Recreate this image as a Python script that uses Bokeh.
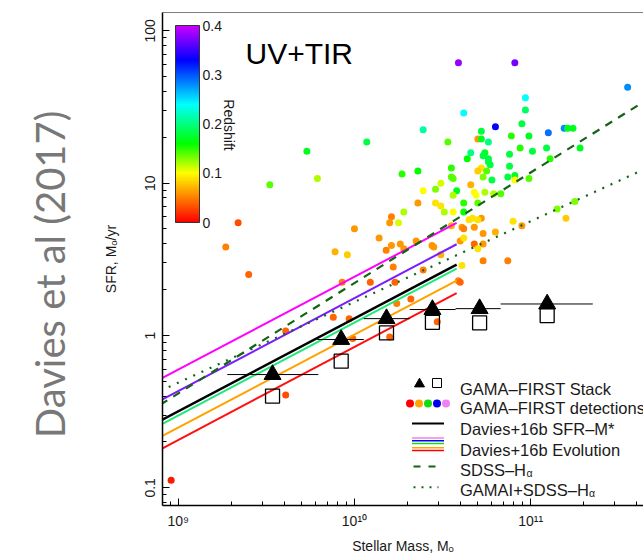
import math, colorsys
import numpy as np
from bokeh.plotting import figure
from bokeh.models import (ColumnDataSource, LinearColorMapper, ColorBar, Label, Span,
                          FixedTicker, CustomJSTickFormatter, Range1d, LogAxis)
from bokeh.embed import file_html
from bokeh.resources import INLINE

# ---------------- data ----------------
log_mass = [10.59, 10.91, 11.55, 10.97, 10.97, 10.62, 10.95, 10.80, 10.39, 11.10,
            11.19, 11.21, 11.24, 10.72, 10.70, 10.72, 10.53, 10.89, 10.99, 10.76,
            10.94, 11.01, 11.09, 11.28, 10.66, 10.74, 10.73, 10.88, 10.64, 10.76,
            10.76, 10.77, 11.11, 10.88, 10.72, 10.70, 10.55, 10.27, 10.36, 10.75,
            10.55, 10.56, 10.73, 10.78, 10.87, 10.91, 10.91, 10.99, 10.49, 10.58,
            10.46, 10.39, 10.66, 10.68, 10.69, 10.74, 10.56, 10.79, 10.83, 10.36,
            10.46, 10.49, 10.28, 10.62, 10.70, 10.51, 10.56, 10.62, 10.21, 10.20,
            10.25, 10.72, 10.65, 10.67, 10.70, 10.90, 11.20, 11.15, 11.25, 10.95,
            10.55, 10.61, 10.62, 10.68, 10.80, 10.73, 10.60, 10.62, 10.68, 10.73,
            10.70, 10.35, 10.44, 10.45, 10.49, 10.26, 10.28, 10.21, 10.18, 10.73,
            10.87, 10.61, 10.39, 10.22, 10.59, 10.60, 10.32, 10.24, 10.23, 9.34,
            9.27, 9.40, 9.52, 9.79, 9.73, 10.07, 10.00, 9.89, 9.96, 10.14,
            9.93, 10.09, 9.88, 9.97, 9.99, 9.61, 10.20, 10.47, 9.61, 8.96]
log_sfr = [1.79, 1.79, 1.63, 1.56, 1.48, 1.46, 1.39, 1.37, 1.35, 1.33,
           1.36, 1.36, 1.36, 1.34, 1.29, 1.29, 1.27, 1.31, 1.31, 1.27,
           1.23, 1.21, 1.23, 1.23, 1.20, 1.20, 1.18, 1.19, 1.16, 1.16,
           1.14, 1.12, 1.16, 1.11, 1.10, 1.08, 1.10, 1.06, 1.08, 1.08,
           1.04, 1.03, 1.04, 1.02, 1.04, 1.05, 1.02, 1.03, 1.00, 0.95,
           0.96, 0.95, 0.99, 0.94, 0.92, 0.94, 0.92, 0.93, 0.93, 0.87,
           0.87, 0.85, 0.81, 0.87, 0.87, 0.81, 0.81, 0.81, 0.78, 0.74,
           0.74, 0.77, 0.76, 0.77, 0.76, 0.75, 0.77, 0.83, 0.88, 0.72,
           0.72, 0.71, 0.70, 0.71, 0.68, 0.67, 0.62, 0.64, 0.60, 0.60,
           0.57, 0.62, 0.59, 0.58, 0.53, 0.60, 0.57, 0.59, 0.56, 0.49,
           0.49, 0.46, 0.43, 0.45, 0.36, 0.35, 0.24, 0.21, 0.35, 0.74,
           0.58, 0.40, 0.99, 1.03, 1.21, 1.27, 0.70, 0.55, 0.53, 0.64,
           0.35, 0.35, 0.12, 0.11, -0.02, 0.03, -0.01, 0.09, -0.39, -0.95]
redshift = [0.38, 0.37, 0.28, 0.24, 0.19, 0.24, 0.18, 0.33, 0.21, 0.29,
            0.28, 0.17, 0.17, 0.18, 0.06, 0.17, 0.14, 0.15, 0.17, 0.20,
            0.15, 0.18, 0.18, 0.17, 0.20, 0.17, 0.18, 0.18, 0.16, 0.18,
            0.18, 0.18, 0.15, 0.18, 0.09, 0.08, 0.15, 0.15, 0.16, 0.14,
            0.14, 0.14, 0.13, 0.18, 0.18, 0.17, 0.10, 0.14, 0.11, 0.17,
            0.13, 0.10, 0.07, 0.10, 0.10, 0.12, 0.12, 0.12, 0.14, 0.06,
            0.09, 0.09, 0.12, 0.15, 0.14, 0.12, 0.10, 0.16, 0.05, 0.06,
            0.11, 0.06, 0.09, 0.09, 0.09, 0.09, 0.08, 0.13, 0.13, 0.06,
            0.07, 0.06, 0.05, 0.06, 0.07, 0.06, 0.06, 0.09, 0.04, 0.06,
            0.09, 0.06, 0.06, 0.06, 0.07, 0.06, 0.06, 0.06, 0.05, 0.05,
            0.05, 0.09, 0.05, 0.05, 0.05, 0.04, 0.04, 0.05, 0.04, 0.03,
            0.05, 0.04, 0.14, 0.12, 0.17, 0.18, 0.06, 0.07, 0.08, 0.06,
            0.05, 0.04, 0.04, 0.04, 0.04, 0.04, 0.04, 0.04, 0.03, 0.01]

stack_mass = [3.43e9, 8.41e9, 1.52e10, 2.77e10, 5.13e10, 1.24e11]
stack_mass_lo = [1.90e9, 6.15e9, 1.13e10, 2.06e10, 3.75e10, 6.75e10]
stack_mass_hi = [6.24e9, 1.13e10, 2.06e10, 3.75e10, 6.75e10, 2.25e11]
stack_sfr_triangle = [0.554, 0.941, 1.29, 1.48, 1.50, 1.61]
stack_sfr_square = [0.40, 0.678, 1.04, 1.22, 1.21, 1.35]

relation_mass = [7.94e8, 3.80e10]
davies_sfr = [0.276, 2.92]
evolution_names = ["magenta", "purple", "green", "orange", "red"]
evolution_sfr = [[0.518, 5.48], [0.375, 3.97], [0.259, 2.75], [0.216, 2.29], [0.179, 1.90]]
halpha_mass = [7.94e8, 5.0e11]
sdss_sfr = [0.352, 37.7]
gama_sdss_sfr = [0.433, 13.2]

# ---------------- styling ----------------
EVO_COLORS = {"magenta": "#ff00ff", "purple": "#7a1cff", "green": "#1ee878",
              "orange": "#ffa200", "red": "#ff1010"}
DGREEN = "#146414"
FONT = "Liberation Sans"

XL0, XL1 = 8.911, 11.64
YL0, YL1 = -1.116, 2.12
FL, FT, FW, FH = 162, 12, 481, 493   # frame geometry in page pixels


def px2data(px, py):
    return (10 ** (XL0 + (px - FL) / FW * (XL1 - XL0)),
            10 ** (YL1 - (py - FT) / FH * (YL1 - YL0)))


def sx(px):
    return px - FL


def sy(py):
    return FT + FH - py


# colour palette (hue rainbow red -> purple)
zk = [0.0, 0.1, 0.16, 0.24, 0.33, 0.4]
hk = [0.0, 1 / 6, 1 / 3, 0.5, 2 / 3, 0.8]
palette = []
for t in np.linspace(0, 0.4, 256):
    r, g, b = colorsys.hsv_to_rgb(float(np.interp(t, zk, hk)), 1.0, 1.0)
    palette.append("#%02x%02x%02x" % (int(r * 255), int(g * 255), int(b * 255)))
mapper = LinearColorMapper(palette=palette, low=0.0, high=0.4)

p = figure(width=643, height=558, x_axis_type="log", y_axis_type="log",
           x_range=Range1d(10 ** XL0, 10 ** XL1), y_range=Range1d(10 ** YL0, 10 ** YL1),
           output_backend="svg", toolbar_location=None,
           min_border_left=FL, min_border_right=0, min_border_top=FT,
           min_border_bottom=558 - FT - FH)
p.grid.visible = False
p.outline_line_color = None
p.background_fill_color = "white"
p.border_fill_color = "white"

# axes
p.xaxis.ticker = FixedTicker(ticks=[1e9, 1e10, 1e11],
                             minor_ticks=[m * 10.0 ** e for e in (8, 9, 10, 11) for m in range(2, 10)])
p.yaxis.ticker = FixedTicker(ticks=[0.1, 1, 10, 100],
                             minor_ticks=[m * 10.0 ** e for e in (-2, -1, 0, 1, 2) for m in range(2, 10)])
p.xaxis.formatter = CustomJSTickFormatter(code="""
const sup = {'0':'\u2070','1':'\u00b9','2':'\u00b2','3':'\u00b3','4':'\u2074','5':'\u2075',
             '6':'\u2076','7':'\u2077','8':'\u2078','9':'\u2079','-':'\u207b'};
const e = String(Math.round(Math.log10(tick)));
return '10' + e.split('').map(c => sup[c]).join('');
""")
p.yaxis.formatter = CustomJSTickFormatter(code="return tick < 1 ? tick.toFixed(1) : tick.toFixed(0);")
p.yaxis.major_label_orientation = "vertical"
for ax in (p.xaxis[0], p.yaxis[0]):
    ax.axis_line_width = 1.5
    ax.axis_line_color = "black"
    ax.major_tick_in = 7
    ax.major_tick_out = 0
    ax.minor_tick_in = 4
    ax.minor_tick_out = 0
    ax.major_tick_line_color = "black"
    ax.minor_tick_line_color = "black"
    ax.major_label_text_font = FONT
    ax.major_label_text_font_size = "14px"
    ax.major_label_text_color = "#1a1a1a"
    ax.axis_label_text_font = FONT
    ax.axis_label_text_font_size = "14px"
    ax.axis_label_text_font_style = "normal"
    ax.axis_label_text_color = "#1a1a1a"
p.xaxis.axis_label = "Stellar Mass, M\u2092"
p.yaxis.axis_label = "SFR, M\u2092/yr"
p.xaxis.major_label_standoff = 7
p.xaxis.axis_label_standoff = 6
p.yaxis.major_label_standoff = 7
p.yaxis.axis_label_standoff = 24

# outer annotation axis carrying the big grey credit text
credit = LogAxis(axis_label="Davies et al (2017)\u00a0\u00a0\u00a0",
                 ticker=FixedTicker(ticks=[]), axis_line_color=None,
                 major_tick_line_color=None, minor_tick_line_color=None,
                 axis_label_text_font="Lato", axis_label_text_font_size="40px",
                 axis_label_text_font_style="normal", axis_label_text_color="#787878",
                 axis_label_standoff=26)
p.add_layout(credit, "left")

p.add_layout(Span(location=10 ** YL1, dimension="width", line_color="black", line_width=1))

# scatter detections
src = ColumnDataSource(dict(m=10 ** np.array(log_mass), s=10 ** np.array(log_sfr), z=redshift))
p.scatter("m", "s", source=src, size=7, fill_color={"field": "z", "transform": mapper},
          line_color=None)

# relations
for name, ys in zip(evolution_names, evolution_sfr):
    p.line(relation_mass, ys, line_color=EVO_COLORS[name], line_width=2)
p.line(relation_mass, davies_sfr, line_color="black", line_width=2.5)
p.line(halpha_mass, sdss_sfr, line_color=DGREEN, line_width=2.2, line_dash="8 7")
p.line(halpha_mass, gama_sdss_sfr, line_color=DGREEN, line_width=2.2, line_dash="2 7")

# stacks
p.segment(stack_mass_lo, stack_sfr_triangle, stack_mass_hi, stack_sfr_triangle,
          line_color="black", line_width=1)
p.scatter(stack_mass, stack_sfr_triangle, marker="triangle", size=17,
          fill_color="black", line_color="black")
p.scatter(stack_mass, stack_sfr_square, marker="square", size=14,
          fill_alpha=0, line_color="black", line_width=1.3)

# colour bar
cb = ColorBar(color_mapper=mapper, location=(13, 283), width=24, height=197,
              padding=0, margin=0,
              ticker=FixedTicker(ticks=[0, 0.1, 0.2, 0.3, 0.4]),
              formatter=CustomJSTickFormatter(code="return tick == 0 ? '0' : tick.toFixed(1);"),
              major_label_text_font=FONT, major_label_text_font_size="14px",
              major_label_text_color="#1a1a1a",
              major_tick_line_color=None, minor_tick_line_color=None,
              bar_line_color="#333333", bar_line_width=1,
              background_fill_alpha=0, border_line_color=None, label_standoff=3)
p.add_layout(cb)

p.add_layout(Label(x=sx(228.5), y=sy(124.5), x_units="screen", y_units="screen",
                   text="Redshift", angle=-math.pi / 2, text_align="center",
                   text_baseline="alphabetic", text_font=FONT,
                   text_font_size="14px", text_color="#1a1a1a"))
p.add_layout(Label(x=sx(245), y=sy(53), x_units="screen", y_units="screen",
                   text="UV+TIR", text_align="left", text_baseline="alphabetic",
                   text_font=FONT, text_font_size="30px", text_color="black"))

# legend (drawn by hand)
leg_text = ["GAMA\u2013FIRST Stack", "GAMA\u2013FIRST detections", "Davies+16b SFR\u2013M*",
            "Davies+16b Evolution", "SDSS\u2013H", "GAMAI+SDSS\u2013H"]
leg_base = [388.0, 407.7, 428.0, 449.2, 469.5, 489.5]
for t, b in zip(leg_text, leg_base):
    p.add_layout(Label(x=sx(459.5), y=sy(b), x_units="screen", y_units="screen", text=t,
                       text_align="left", text_baseline="alphabetic", text_font=FONT,
                       text_font_size="16.5px", text_color="#1a1a1a"))
for xa, b in ((526.0, 472.8), (588.5, 492.8)):
    p.add_layout(Label(x=sx(xa), y=sy(b), x_units="screen", y_units="screen", text="\u03b1",
                       text_align="left", text_baseline="alphabetic", text_font=FONT,
                       text_font_size="10.5px", text_color="#1a1a1a"))

tx, ty = px2data(419, 383.5)
p.scatter([tx], [ty], marker="triangle", size=10, fill_color="black", line_color="black")
qx, qy = px2data(436.5, 382.5)
p.scatter([qx], [qy], marker="square", size=9, fill_alpha=0, line_color="black", line_width=1)
dot_cols = ["#ff0000", "#ffa500", "#11dd11", "#0000ee", "#ee82ee"]
dx, dy = zip(*[px2data(409.5 + 9 * i, 403) for i in range(5)])
p.scatter(list(dx), list(dy), size=8, fill_color=dot_cols, line_color=None)


def leg_line(x0, x1, py, **kw):
    a = px2data(x0, py)
    b = px2data(x1, py)
    p.line([a[0], b[0]], [a[1], b[1]], **kw)


leg_line(411.5, 443.5, 423, line_color="black", line_width=2)
for c, py in zip(["#ee82ee", "#0000ff", "#11dd11", "#ffa500", "#ff0000"],
                 [437.5, 440.3, 443.0, 447.3, 450.0]):
    leg_line(411.5, 443.5, py, line_color=c, line_width=1.6)
leg_line(413, 436, 466, line_color=DGREEN, line_width=2, line_dash="7 8")
leg_line(413, 438, 486.7, line_color=DGREEN, line_width=2, line_dash="2 6")

open("out.html", "w").write(file_html(p, INLINE))
